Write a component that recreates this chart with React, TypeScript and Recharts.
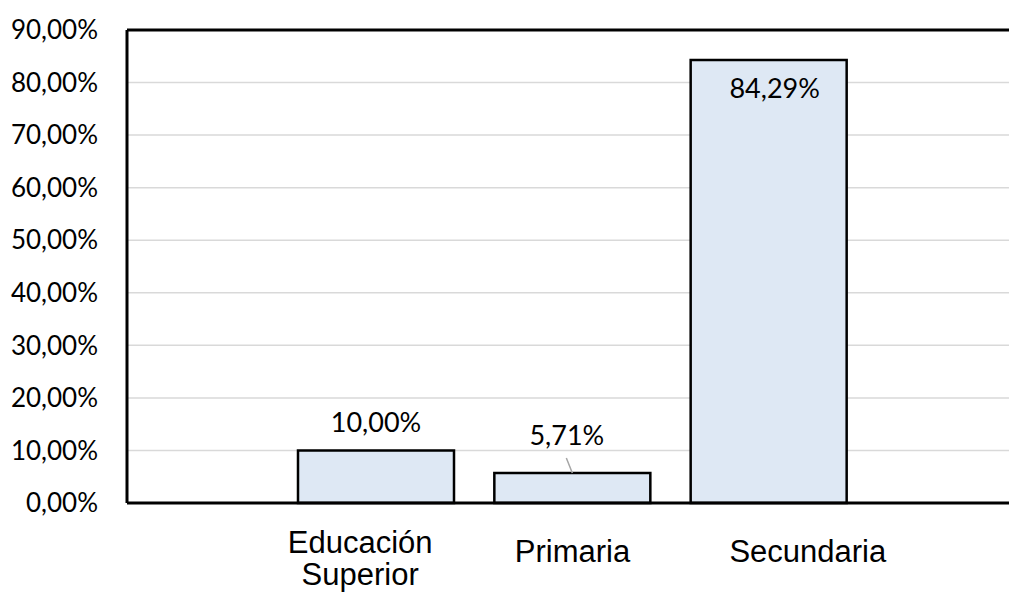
import { BarChart, Bar, XAxis, YAxis, CartesianGrid, ReferenceLine, LabelList } from "recharts";

// Nivel educativo (porcentaje de encuestados)
const niveles = ["Educación Superior", "Primaria", "Secundaria"];
const porcentajes = [10.0, 5.71, 84.29];
const yTicks = [0, 10, 20, 30, 40, 50, 60, 70, 80, 90];

const data = niveles.map((nivel, i) => ({ nivel, valor: porcentajes[i] }));

const fmtPct = (v: number) => v.toFixed(2).replace(".", ",") + "%";

const NUM_FONT = "Lato, 'Open Sans', sans-serif";
const CAT_FONT = "'Liberation Sans', Arial, sans-serif";

// ajustes finos de la etiqueta de cada categoría
const tickShift: Record<string, number> = {
  "Educación Superior": -16,
  Primaria: 0,
  Secundaria: 39,
};

function CategoryTick(props: any) {
  const { x, y, payload } = props;
  const label: string = payload.value;
  const cx = x + (tickShift[label] ?? 0);
  const words = label.split(" ");
  if (words.length > 1) {
    return (
      <text x={cx} y={y} textAnchor="middle" fontFamily={CAT_FONT} fontSize={31} fill="#000">
        <tspan x={cx} dy={50}>{words[0]}</tspan>
        <tspan x={cx} dy={32}>{words.slice(1).join(" ")}</tspan>
      </text>
    );
  }
  return (
    <text x={cx} y={y + 59} textAnchor="middle" fontFamily={CAT_FONT} fontSize={31} fill="#000">
      {label}
    </text>
  );
}

// etiqueta de valor: dentro de la barra alta, con línea guía en la barra baja
function ValueLabel(props: any) {
  const { x, y, width, value, index } = props;
  const cx = x + width / 2;
  const nivel = niveles[index];
  const txt = fmtPct(Number(value));
  if (nivel === "Secundaria") {
    return (
      <text x={cx + 6} y={y + 38} textAnchor="middle" fontFamily={NUM_FONT} fontSize={27} fill="#000">
        {txt}
      </text>
    );
  }
  if (nivel === "Primaria") {
    return (
      <g>
        <line x1={cx - 6} y1={y - 15} x2={cx} y2={y} stroke="#a6a6a6" strokeWidth={1.5} />
        <text x={cx - 5.5} y={y - 28} textAnchor="middle" fontFamily={NUM_FONT} fontSize={27} fill="#000">
          {txt}
        </text>
      </g>
    );
  }
  return (
    <text x={cx} y={y - 18} textAnchor="middle" fontFamily={NUM_FONT} fontSize={27} fill="#000">
      {txt}
    </text>
  );
}

export default function App() {
  return (
    <div
      style={{
        position: "absolute",
        left: 0,
        top: 0,
        width: 1009,
        height: 593,
        overflow: "hidden",
        background: "#fff",
      }}
    >
      {/* el área de trazado continúa más allá del borde derecho */}
      <BarChart
        width={1020}
        height={593}
        data={data}
        margin={{ top: 30, right: 0, left: 0, bottom: 0 }}
        barCategoryGap={20}
      >
        <CartesianGrid vertical={false} stroke="#d9d9d9" strokeWidth={1.5} />
        <XAxis
          dataKey="nivel"
          height={90}
          padding={{ left: 151, right: 153 }}
          axisLine={{ stroke: "#000", strokeWidth: 3 }}
          tickLine={false}
          tickSize={0}
          tickMargin={0}
          interval={0}
          tick={<CategoryTick />}
        />
        <YAxis
          width={127}
          domain={[0, 90]}
          ticks={yTicks}
          tickFormatter={fmtPct}
          axisLine={{ stroke: "#000", strokeWidth: 3 }}
          tickLine={false}
          tickSize={0}
          tickMargin={29}
          tick={{ fill: "#000", fontSize: 26, fontFamily: NUM_FONT }}
        />
        {/* borde superior del área de trazado */}
        <ReferenceLine y={90} stroke="#000" strokeWidth={3} />
        <Bar dataKey="valor" fill="#dee8f4" stroke="#000" strokeWidth={2.5} isAnimationActive={false}>
          <LabelList dataKey="valor" content={<ValueLabel />} />
        </Bar>
      </BarChart>
    </div>
  );
}
